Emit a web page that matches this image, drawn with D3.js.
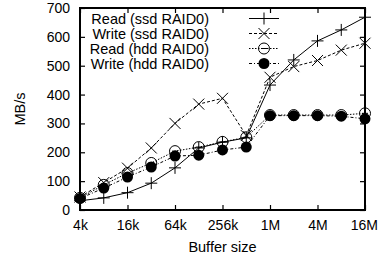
<!DOCTYPE html>
<html><head><meta charset="utf-8">
<script src="https://cdn.jsdelivr.net/npm/d3@7"></script>
<style>body{margin:0;background:#fff}svg{display:block}text{font-family:"Liberation Sans",Arial,sans-serif;font-size:14.5px;fill:#000}</style>
</head><body>
<script>
const bufferSizes = ["4k","8k","16k","32k","64k","128k","256k","512k","1M","2M","4M","8M","16M"];
const bufferBytes = [4,8,16,32,64,128,256,512,1024,2048,4096,8192,16384];
const xTickLabels = ["4k","16k","64k","256k","1M","4M","16M"];
const xTickValues = [4,16,64,256,1024,4096,16384];
const yTicks = [0,100,200,300,400,500,600,700];
const readSsd  = [32,42,60,93,146,215,235,250,433,520,586,624,668];
const writeSsd = [45,95,145,215,300,367,387,258,460,497,518,554,578];
const readHdd  = [42,87,128,163,204,218,236,252,329,329,329,329,335];
const writeHdd = [40,76,114,149,187,190,208,218,327,327,327,325,316];
const seriesNames = ["Read (ssd RAID0)","Write (ssd RAID0)","Read (hdd RAID0)","Write (hdd RAID0)"];

const W=378,H=258, L=80,R=365,T=8,B=210;
const svg=d3.select("body").append("svg").attr("width",W).attr("height",H);
const x=d3.scaleLog().base(2).domain([4,16384]).range([L,R]);
const y=d3.scaleLinear().domain([0,700]).range([B,T]);

const series=[
 {name:seriesNames[0],vals:readSsd,dash:null,marker:"plus"},
 {name:seriesNames[1],vals:writeSsd,dash:"3,2",marker:"cross"},
 {name:seriesNames[2],vals:readHdd,dash:"1.5,1.5",marker:"open"},
 {name:seriesNames[3],vals:writeHdd,dash:"3,2,1,2",marker:"filled"}
];

const tl=5;
const gx=svg.append("g").attr("transform",`translate(0,${B})`)
 .call(d3.axisBottom(x).tickValues(xTickValues).tickFormat((d,i)=>xTickLabels[i]).tickSize(-tl).tickPadding(10));
const gxt=svg.append("g").attr("transform",`translate(0,${T})`)
 .call(d3.axisTop(x).tickValues(xTickValues).tickFormat("").tickSize(-tl));
const gy=svg.append("g").attr("transform",`translate(${L},0)`)
 .call(d3.axisLeft(y).tickValues(yTicks).tickSize(-tl).tickPadding(10));
const gyr=svg.append("g").attr("transform",`translate(${R},0)`)
 .call(d3.axisRight(y).tickValues(yTicks).tickFormat("").tickSize(-tl));
[gx,gxt,gy,gyr].forEach(g=>{g.select(".domain").remove();g.selectAll("line").attr("stroke","#000").attr("stroke-width",1.2);g.selectAll("text").style("font-size","14px").attr("fill","#000");});
gx.selectAll("text").filter((d,i)=>i===xTickValues.length-1).attr("text-anchor","end").attr("dx","12.5");

svg.append("rect").attr("x",L).attr("y",T).attr("width",R-L).attr("height",B-T)
 .attr("fill","none").attr("stroke","#000").attr("stroke-width",2);

svg.append("text").attr("x",(L+R)/2).attr("y",252).attr("text-anchor","middle").text("Buffer size");
svg.append("text").attr("transform",`translate(25,${(T+B)/2}) rotate(-90)`).attr("text-anchor","middle").text("MB/s");

function drawMarker(g,type,cx,cy){
 if(type==="plus"){
  g.append("path").attr("d",`M${cx-6},${cy}H${cx+6}M${cx},${cy-6}V${cy+6}`).attr("stroke","#000").attr("stroke-width",1);
 } else if(type==="cross"){
  g.append("path").attr("d",`M${cx-5.5},${cy-5.5}L${cx+5.5},${cy+5.5}M${cx-5.5},${cy+5.5}L${cx+5.5},${cy-5.5}`).attr("stroke","#000").attr("stroke-width",1);
 } else if(type==="open"){
  g.append("circle").attr("cx",cx).attr("cy",cy).attr("r",5.5).attr("fill","none").attr("stroke","#000").attr("stroke-width",1);
  g.append("line").attr("x1",cx-3).attr("x2",cx+3).attr("y1",cy).attr("y2",cy).attr("stroke","#000").attr("stroke-width",1);
 } else {
  g.append("circle").attr("cx",cx).attr("cy",cy).attr("r",5.5).attr("fill","#000");
 }
}

const line=d3.line().x((d,i)=>x(bufferBytes[i])).y(d=>y(d));
series.forEach(s=>{
 const g=svg.append("g");
 g.append("path").attr("d",line(s.vals)).attr("fill","none").attr("stroke","#000").attr("stroke-width",1)
  .attr("stroke-dasharray",s.dash);
 s.vals.forEach((v,i)=>drawMarker(g,s.marker,x(bufferBytes[i]),y(v)));
});

series.forEach((s,i)=>{
 const ly=18.5+i*15;
 svg.append("text").attr("x",209).attr("y",ly).attr("dy","0.35em").attr("text-anchor","end").text(s.name);
 const g=svg.append("g");
 g.append("line").attr("x1",249).attr("x2",279).attr("y1",ly).attr("y2",ly).attr("stroke","#000").attr("stroke-width",1).attr("stroke-dasharray",s.dash);
 drawMarker(g,s.marker,264,ly);
});
</script>
</body></html>
